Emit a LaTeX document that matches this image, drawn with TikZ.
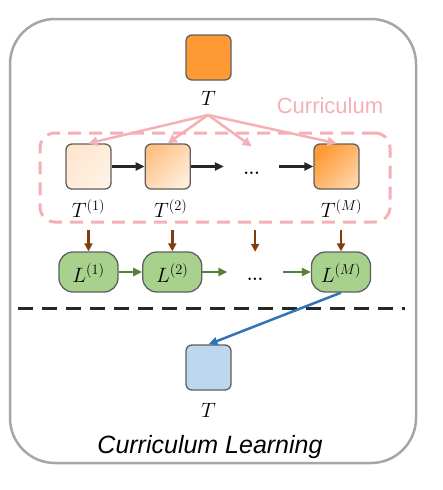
\documentclass[tikz,border=0pt]{standalone}
\usepackage{fontspec}
\setsansfont{Liberation Sans}
\usetikzlibrary{arrows.meta, positioning}

\definecolor{framegray}{HTML}{A6A6A6}
\definecolor{edgegray}{HTML}{5F5F5F}
\definecolor{taskorange}{HTML}{FF9933}
\definecolor{currpink}{HTML}{F5B0B5}
\definecolor{lossgreen}{HTML}{A9D18E}
\definecolor{greenarrow}{HTML}{548235}
\definecolor{brownarrow}{HTML}{843C0C}
\definecolor{bluearrow}{HTML}{2E75B6}
\definecolor{targetblue}{HTML}{BDD7EE}
\definecolor{darkline}{HTML}{262626}

\begin{document}
\begin{tikzpicture}[
  x=1pt, y=-1pt,
  task/.style={draw=edgegray, line width=1.3pt, rounded corners=6pt, minimum size=45pt, inner sep=0pt},
  loss/.style={draw=edgegray, line width=1.3pt, fill=lossgreen, rounded corners=14pt, minimum width=59pt, minimum height=40pt, inner sep=0pt, text height=20pt, text depth=0pt, font=\fontsize{22}{26}\selectfont},
  lbl/.style={anchor=base, inner sep=0pt, font=\fontsize{22}{26}\selectfont},
  gapdots/.style={inner sep=0pt, minimum width=55pt, text height=28pt, text depth=12pt, font=\bfseries\fontsize{17}{20}\selectfont},
  blackarr/.style={-{Triangle[length=9pt, width=8pt]}, line width=2.5pt, darkline},
  pinkarr/.style={-{Triangle[length=9pt, width=9pt]}, line width=2.5pt, currpink},
  brownarr/.style={-{Triangle[length=8pt, width=8pt]}, line width=2.5pt, brownarrow},
  greenarr/.style={-{Triangle[length=9pt, width=8pt]}, line width=2.5pt, greenarrow},
  bluearr/.style={-{Triangle[length=9pt, width=8pt]}, line width=2.5pt, bluearrow}
]
\useasboundingbox (0,0) rectangle (442,490);

% Outer frame
\node[draw=framegray, line width=2.5pt, rounded corners=45pt, minimum width=406pt, minimum height=444pt, inner sep=0pt] (frame) at (213,241) {};

% Row 0: full task
\node[task, fill=taskorange] (task) at (208.5,57.5) {};
\node[lbl] (tasklbl) at ([yshift=-25pt]task.south) {$T$};
\coordinate (split) at (208,115);

% Curriculum box
\node[draw=currpink, line width=3pt, dash pattern=on 13pt off 8pt, rounded corners=15pt, minimum width=350pt, minimum height=89pt, inner sep=0pt] (curr) at (215,177.5) {};
\node[anchor=base, inner sep=0pt, text=currpink, font=\sffamily\fontsize{22}{26}\selectfont] (currlbl) at (330,113) {Curriculum};

% Row 1: sub-tasks
\node[task, top color=taskorange!24, middle color=taskorange!17, bottom color=taskorange!13, shading angle=45] (t1) at (88.5,166.5) {};
\node[task, top color=taskorange!60, middle color=taskorange!45, bottom color=taskorange!18, shading angle=45, right=33pt of t1] (t2) {};
\node[gapdots, right=33pt of t2] (tdots) {...};
\node[task, top color=taskorange, middle color=taskorange!92, bottom color=taskorange!45, shading angle=45, right=34pt of tdots] (tm) {};

\node[lbl] (t1lbl) at ([yshift=-28pt]t1.south) {$T^{(1)}$};
\node[lbl] (t2lbl) at ([yshift=-28pt, xshift=3pt]t2.south) {$T^{(2)}$};
\node[lbl] (tmlbl) at ([yshift=-28pt, xshift=5pt]tm.south) {$T^{(M)}$};

% Row 2: losses
\node[loss] (l1) at (88.5,272) {$L^{(1)}$};
\node[loss, right=23.5pt of l1] (l2) {$L^{(2)}$};
\node[gapdots, right=25pt of l2] (ldots) {...};
\node[loss, right=28pt of ldots] (lm) {$L^{(M)}$};

% Separator
\draw[darkline, line width=3pt, dash pattern=on 15pt off 9pt] (18,308) -- (405,308);

% Row 3: target task
\node[task, fill=targetblue] (target) at (208.5,367.5) {};
\node[lbl] (targetlbl) at ([yshift=-27pt]target.south) {$T$};
\node[anchor=base, inner sep=0pt, font=\sffamily\itshape\fontsize{25}{30}\selectfont] (title) at (210,453) {Curriculum Learning};

% Arrows
\draw[pinkarr] (split) -- (t1.north);
\draw[pinkarr] (split) -- (t2.north);
\draw[pinkarr] (split) -- (tdots.north);
\draw[pinkarr] (split) -- (tm.north);

\draw[blackarr] (t1.east)    -- (t2.west);
\draw[blackarr] (t2.east)    -- (tdots.west);
\draw[blackarr] (tdots.east) -- (tm.west);

\draw[brownarr, shorten <=6pt] (curr.south -| l1.north)    -- (l1.north);
\draw[brownarr, shorten <=6pt] (curr.south -| l2.north)    -- (l2.north);
\draw[brownarr, shorten <=6pt] (curr.south -| ldots.north) -- (ldots.north);
\draw[brownarr, shorten <=6pt] (curr.south -| lm.north)    -- (lm.north);

\draw[greenarr] (l1.east)    -- (l2.west);
\draw[greenarr] (l2.east)    -- (ldots.west);
\draw[greenarr] (ldots.east) -- (lm.west);

\draw[bluearr] (lm.south) -- (target.north);

\end{tikzpicture}
\end{document}
